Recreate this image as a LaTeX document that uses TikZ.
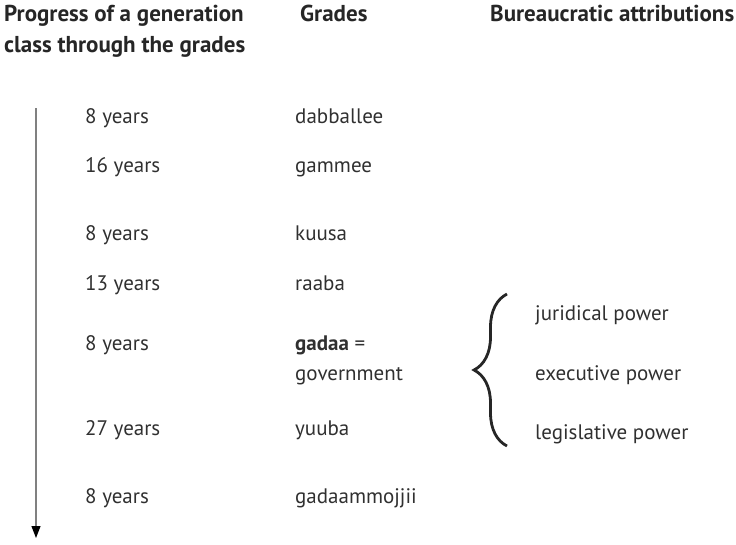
\documentclass[tikz,border=0pt]{standalone}
\usepackage{fontspec}
\setmainfont{PT Sans}
\usepackage{tikz}
\usetikzlibrary{arrows.meta}
\usetikzlibrary{decorations.pathreplacing}
\usetikzlibrary{positioning}
\definecolor{textgray}{HTML}{303030}
\definecolor{linegray}{HTML}{808080}

\begin{document}
\begin{tikzpicture}[x=1pt,y=-1pt,
		head/.style={anchor=base west,inner sep=0pt,font=\fontsize{23}{32}\selectfont\bfseries,text=black!85},
		item/.style={anchor=base west,inner sep=0pt,font=\fontsize{21}{25}\selectfont,text=textgray}]
			\useasboundingbox (0,0) rectangle (736,544);
			%print column headings
			\node[head] (h_progress) at (4,21) {Progress of a generation};
			\node[head] (h_class) at (4,52) {class through the grades};
			\node[head] (h_grades) at (300,21) {Grades};
			\node[head] (h_bureau) at (490,21) {Bureaucratic attributions};
			%print time axis
			\coordinate (t_start) at (36,108);
			\coordinate (t_end) at (36,538);
			\draw[linegray,line width=1.2pt,-{Triangle[black,width=9pt,length=12pt]}] (t_start)--(t_end);
			%print years and grades
			\node[item] (y_1) at (85,123) {8 years};
			\node[item] (y_2) at (85,172) {16 years};
			\node[item] (y_3) at (85,240) {8 years};
			\node[item] (y_4) at (85,290) {13 years};
			\node[item] (y_5) at (85,350) {8 years};
			\node[item] (y_6) at (85,435) {27 years};
			\node[item] (y_7) at (85,503) {8 years};
			\node[item] (g_1) at (295,123) {dabballee};
			\node[item] (g_2) at (295,172) {gammee};
			\node[item] (g_3) at (295,240) {kuusa};
			\node[item] (g_4) at (295,290) {raaba};
			\node[item] (g_5) at (295,350) {\textbf{gadaa} =};
			\node[item] (g_5b) at (295,380) {government};
			\node[item] (g_6) at (295,435) {yuuba};
			\node[item] (g_7) at (295,503) {gadaammojjii};
			%print brace and powers
			\coordinate (b_top) at (507,294);
			\coordinate (b_bot) at (507,446);
			\draw[black!85,line width=2.8pt,decorate,decoration={brace,amplitude=33pt,aspect=0.5}] (b_bot)--(b_top);
			\node[item] (p_1) at (535,320) {juridical power};
			\node[item] (p_2) at (535,380) {executive power};
			\node[item] (p_3) at (535,439) {legislative power};
		\end{tikzpicture}
\end{document}
